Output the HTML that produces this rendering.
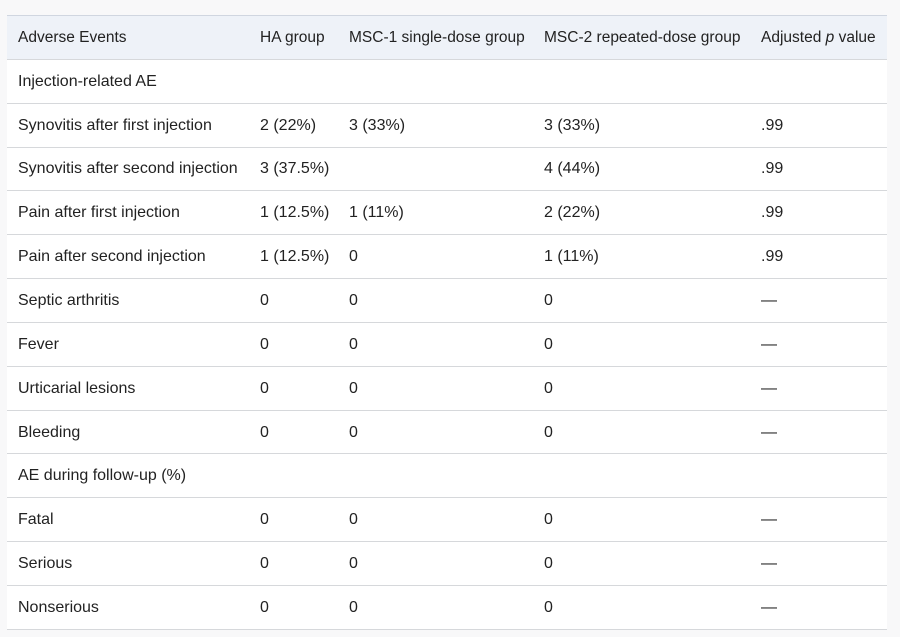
<!DOCTYPE html>
<html><head><meta charset="utf-8"><style>
html,body{margin:0;padding:0;background:#f8f8f9;width:900px;height:637px;overflow:hidden}
table{position:absolute;left:7px;top:15px;width:880px;border-collapse:collapse;table-layout:fixed;font-family:"Liberation Sans",sans-serif;font-size:16px;color:#222;background:#fff}
td,th{height:41.85px;padding:1px 0 0 11px;text-align:left;font-weight:normal;border-top:1px solid #d6d8db;border-bottom:1px solid #d6d8db;white-space:nowrap;overflow:visible}
th{background:#eef2f8;border-top:1px solid #d0d6e0;font-size:15.5px}
</style></head><body>
<table>
<colgroup><col style="width:242px"><col style="width:89px"><col style="width:195px"><col style="width:217px"><col style="width:137px"></colgroup>
<tr><th>Adverse Events</th><th>HA group</th><th>MSC-1 single-dose group</th><th>MSC-2 repeated-dose group</th><th>Adjusted <i>p</i> value</th></tr>
<tr><td>Injection-related AE</td><td></td><td></td><td></td><td></td></tr>
<tr><td>Synovitis after first injection</td><td>2 (22%)</td><td>3 (33%)</td><td>3 (33%)</td><td>.99</td></tr>
<tr><td>Synovitis after second injection</td><td>3 (37.5%)</td><td></td><td>4 (44%)</td><td>.99</td></tr>
<tr><td>Pain after first injection</td><td>1 (12.5%)</td><td>1 (11%)</td><td>2 (22%)</td><td>.99</td></tr>
<tr><td>Pain after second injection</td><td>1 (12.5%)</td><td>0</td><td>1 (11%)</td><td>.99</td></tr>
<tr><td>Septic arthritis</td><td>0</td><td>0</td><td>0</td><td>—</td></tr>
<tr><td>Fever</td><td>0</td><td>0</td><td>0</td><td>—</td></tr>
<tr><td>Urticarial lesions</td><td>0</td><td>0</td><td>0</td><td>—</td></tr>
<tr><td>Bleeding</td><td>0</td><td>0</td><td>0</td><td>—</td></tr>
<tr><td>AE during follow-up (%)</td><td></td><td></td><td></td><td></td></tr>
<tr><td>Fatal</td><td>0</td><td>0</td><td>0</td><td>—</td></tr>
<tr><td>Serious</td><td>0</td><td>0</td><td>0</td><td>—</td></tr>
<tr><td>Nonserious</td><td>0</td><td>0</td><td>0</td><td>—</td></tr>
</table>
</body></html>
